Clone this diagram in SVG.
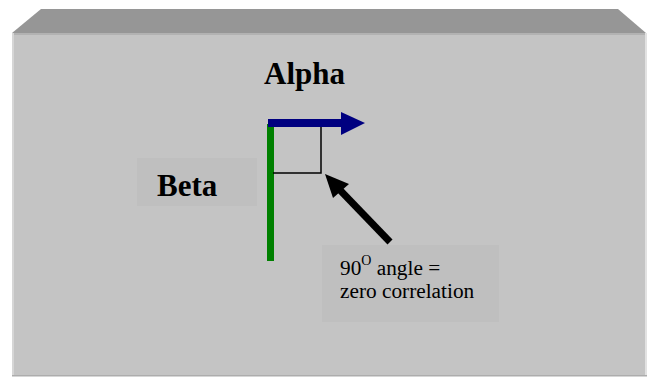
<svg xmlns="http://www.w3.org/2000/svg" width="652" height="377" viewBox="0 0 652 377">
<style>
.bold{font-family:"Liberation Serif","Times New Roman",serif;font-weight:bold;font-size:31px;fill:#000}
.reg{font-family:"Liberation Serif","Times New Roman",serif;font-size:21.3px;fill:#000}
.lbox{fill:#bfbfbf}
</style>
<rect width="652" height="377" fill="#ffffff"/>
<g id="panel">
<polygon points="41,9 618,9 646,33 12,33" fill="#969696"/>
<rect x="12" y="33" width="634" height="343" fill="#c4c4c4"/>
<rect x="12" y="33" width="634" height="2" fill="#b2b2b2"/>
<rect x="12" y="33" width="2" height="343" fill="#d6d6d6"/>
<rect x="645" y="33" width="2" height="343" fill="#e2e2e2"/>
<rect x="12" y="375" width="635" height="1.5" fill="#adadad"/>
</g>
<g id="alpha">
<text class="bold" x="264" y="84">Alpha</text>
</g>
<g id="beta">
<rect class="lbox" x="137" y="158" width="120" height="48"/>
<text class="bold" x="157" y="196">Beta</text>
</g>
<g id="callout">
<rect class="lbox" x="322" y="245" width="177" height="77"/>
<text class="reg" x="340" y="275">90<tspan dy="-10" font-size="14">O</tspan><tspan dy="10"> angle =</tspan></text>
<text class="reg" x="340" y="298">zero correlation</text>
</g>
<g id="connectors">
<line x1="270.5" y1="124" x2="270.5" y2="261" stroke="#008000" stroke-width="7"/>
<line x1="268" y1="123" x2="342" y2="123" stroke="#000080" stroke-width="8"/>
<polygon points="341,112 365,123 341,135" fill="#000080"/>
<path d="M273,173 H321 V127" fill="none" stroke="#000" stroke-width="1.5"/>
<line x1="390" y1="242" x2="338" y2="188" stroke="#000" stroke-width="7"/>
<polygon points="325,174 349,184 333,198" fill="#000"/>
</g>
</svg>
